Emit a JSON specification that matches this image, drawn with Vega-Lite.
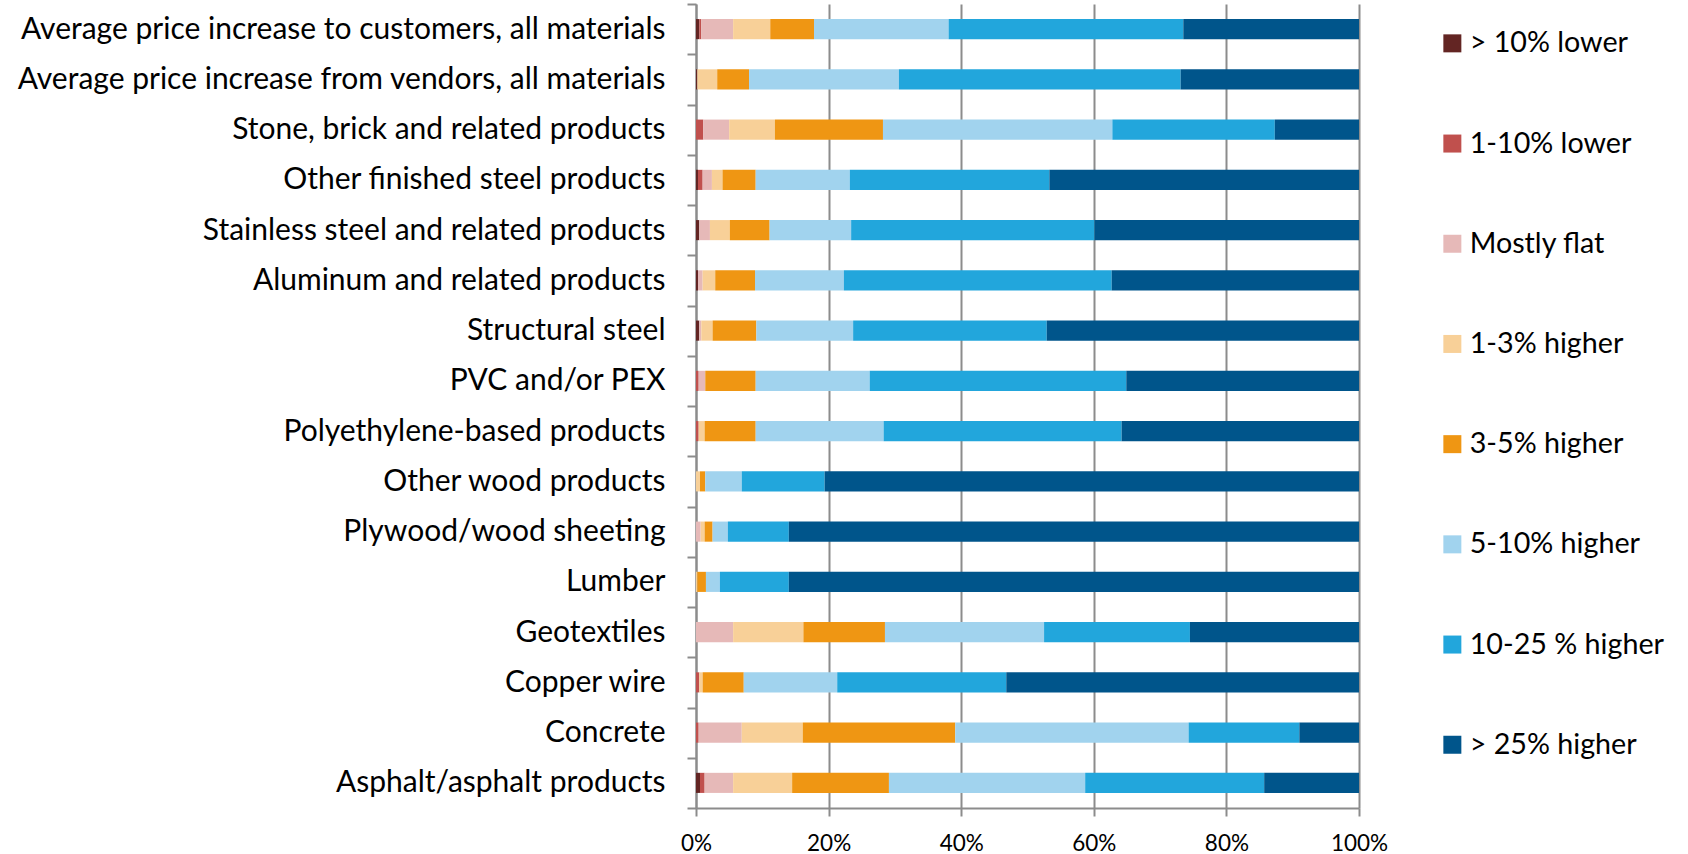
{
  "$schema": "https://vega.github.io/schema/vega-lite/v6.json",
  "autosize": {"type": "none"},
  "width": 663,
  "height": 804,
  "padding": {"left": 696, "top": 4, "right": 329, "bottom": 46},
  "background": "white",
  "config": {
    "view": {"stroke": null},
    "font": "Lato"
  },
  "datasets": {
    "cats": [
      {"c": "> 10% lower", "o": 1},
      {"c": "1-10% lower", "o": 2},
      {"c": "Mostly flat", "o": 3},
      {"c": "1-3% higher", "o": 4},
      {"c": "3-5% higher", "o": 5},
      {"c": "5-10% higher", "o": 6},
      {"c": "10-25 % higher", "o": 7},
      {"c": "> 25% higher", "o": 8}
    ]
  },
  "data": {"values": [
    {"m": "Average price increase to customers, all materials", "c": "> 10% lower", "v": 0.5},
    {"m": "Average price increase to customers, all materials", "c": "1-10% lower", "v": 0.3},
    {"m": "Average price increase to customers, all materials", "c": "Mostly flat", "v": 4.8},
    {"m": "Average price increase to customers, all materials", "c": "1-3% higher", "v": 5.6},
    {"m": "Average price increase to customers, all materials", "c": "3-5% higher", "v": 6.6},
    {"m": "Average price increase to customers, all materials", "c": "5-10% higher", "v": 20.3},
    {"m": "Average price increase to customers, all materials", "c": "10-25 % higher", "v": 35.4},
    {"m": "Average price increase to customers, all materials", "c": "> 25% higher", "v": 26.5},
    {"m": "Average price increase from vendors, all materials", "c": "> 10% lower", "v": 0.2},
    {"m": "Average price increase from vendors, all materials", "c": "1-3% higher", "v": 3.0},
    {"m": "Average price increase from vendors, all materials", "c": "3-5% higher", "v": 4.8},
    {"m": "Average price increase from vendors, all materials", "c": "5-10% higher", "v": 22.6},
    {"m": "Average price increase from vendors, all materials", "c": "10-25 % higher", "v": 42.5},
    {"m": "Average price increase from vendors, all materials", "c": "> 25% higher", "v": 26.9},
    {"m": "Stone, brick and related products", "c": "1-10% lower", "v": 1.1},
    {"m": "Stone, brick and related products", "c": "Mostly flat", "v": 3.9},
    {"m": "Stone, brick and related products", "c": "1-3% higher", "v": 6.9},
    {"m": "Stone, brick and related products", "c": "3-5% higher", "v": 16.3},
    {"m": "Stone, brick and related products", "c": "5-10% higher", "v": 34.6},
    {"m": "Stone, brick and related products", "c": "10-25 % higher", "v": 24.5},
    {"m": "Stone, brick and related products", "c": "> 25% higher", "v": 12.7},
    {"m": "Other finished steel products", "c": "> 10% lower", "v": 0.3},
    {"m": "Other finished steel products", "c": "1-10% lower", "v": 0.7},
    {"m": "Other finished steel products", "c": "Mostly flat", "v": 1.4},
    {"m": "Other finished steel products", "c": "1-3% higher", "v": 1.6},
    {"m": "Other finished steel products", "c": "3-5% higher", "v": 5.0},
    {"m": "Other finished steel products", "c": "5-10% higher", "v": 14.2},
    {"m": "Other finished steel products", "c": "10-25 % higher", "v": 30.1},
    {"m": "Other finished steel products", "c": "> 25% higher", "v": 46.7},
    {"m": "Stainless steel and related products", "c": "> 10% lower", "v": 0.5},
    {"m": "Stainless steel and related products", "c": "Mostly flat", "v": 1.6},
    {"m": "Stainless steel and related products", "c": "1-3% higher", "v": 3.0},
    {"m": "Stainless steel and related products", "c": "3-5% higher", "v": 6.0},
    {"m": "Stainless steel and related products", "c": "5-10% higher", "v": 12.3},
    {"m": "Stainless steel and related products", "c": "10-25 % higher", "v": 36.7},
    {"m": "Stainless steel and related products", "c": "> 25% higher", "v": 39.9},
    {"m": "Aluminum and related products", "c": "> 10% lower", "v": 0.3},
    {"m": "Aluminum and related products", "c": "Mostly flat", "v": 0.7},
    {"m": "Aluminum and related products", "c": "1-3% higher", "v": 1.9},
    {"m": "Aluminum and related products", "c": "3-5% higher", "v": 6.0},
    {"m": "Aluminum and related products", "c": "5-10% higher", "v": 13.4},
    {"m": "Aluminum and related products", "c": "10-25 % higher", "v": 40.4},
    {"m": "Aluminum and related products", "c": "> 25% higher", "v": 37.3},
    {"m": "Structural steel", "c": "> 10% lower", "v": 0.5},
    {"m": "Structural steel", "c": "Mostly flat", "v": 0.3},
    {"m": "Structural steel", "c": "1-3% higher", "v": 1.7},
    {"m": "Structural steel", "c": "3-5% higher", "v": 6.6},
    {"m": "Structural steel", "c": "5-10% higher", "v": 14.6},
    {"m": "Structural steel", "c": "10-25 % higher", "v": 29.2},
    {"m": "Structural steel", "c": "> 25% higher", "v": 47.1},
    {"m": "PVC and/or PEX", "c": "1-10% lower", "v": 0.4},
    {"m": "PVC and/or PEX", "c": "Mostly flat", "v": 1.0},
    {"m": "PVC and/or PEX", "c": "3-5% higher", "v": 7.6},
    {"m": "PVC and/or PEX", "c": "5-10% higher", "v": 17.2},
    {"m": "PVC and/or PEX", "c": "10-25 % higher", "v": 38.7},
    {"m": "PVC and/or PEX", "c": "> 25% higher", "v": 35.1},
    {"m": "Polyethylene-based products", "c": "1-10% lower", "v": 0.4},
    {"m": "Polyethylene-based products", "c": "1-3% higher", "v": 0.9},
    {"m": "Polyethylene-based products", "c": "3-5% higher", "v": 7.7},
    {"m": "Polyethylene-based products", "c": "5-10% higher", "v": 19.3},
    {"m": "Polyethylene-based products", "c": "10-25 % higher", "v": 35.9},
    {"m": "Polyethylene-based products", "c": "> 25% higher", "v": 35.8},
    {"m": "Other wood products", "c": "1-3% higher", "v": 0.6},
    {"m": "Other wood products", "c": "3-5% higher", "v": 0.8},
    {"m": "Other wood products", "c": "5-10% higher", "v": 5.5},
    {"m": "Other wood products", "c": "10-25 % higher", "v": 12.5},
    {"m": "Other wood products", "c": "> 25% higher", "v": 80.6},
    {"m": "Plywood/wood sheeting", "c": "Mostly flat", "v": 0.7},
    {"m": "Plywood/wood sheeting", "c": "1-3% higher", "v": 0.6},
    {"m": "Plywood/wood sheeting", "c": "3-5% higher", "v": 1.2},
    {"m": "Plywood/wood sheeting", "c": "5-10% higher", "v": 2.3},
    {"m": "Plywood/wood sheeting", "c": "10-25 % higher", "v": 9.2},
    {"m": "Plywood/wood sheeting", "c": "> 25% higher", "v": 86.0},
    {"m": "Lumber", "c": "1-3% higher", "v": 0.2},
    {"m": "Lumber", "c": "3-5% higher", "v": 1.3},
    {"m": "Lumber", "c": "5-10% higher", "v": 2.1},
    {"m": "Lumber", "c": "10-25 % higher", "v": 10.4},
    {"m": "Lumber", "c": "> 25% higher", "v": 86.0},
    {"m": "Geotextiles", "c": "Mostly flat", "v": 5.6},
    {"m": "Geotextiles", "c": "1-3% higher", "v": 10.6},
    {"m": "Geotextiles", "c": "3-5% higher", "v": 12.3},
    {"m": "Geotextiles", "c": "5-10% higher", "v": 24.0},
    {"m": "Geotextiles", "c": "10-25 % higher", "v": 22.0},
    {"m": "Geotextiles", "c": "> 25% higher", "v": 25.5},
    {"m": "Copper wire", "c": "1-10% lower", "v": 0.5},
    {"m": "Copper wire", "c": "1-3% higher", "v": 0.5},
    {"m": "Copper wire", "c": "3-5% higher", "v": 6.2},
    {"m": "Copper wire", "c": "5-10% higher", "v": 14.1},
    {"m": "Copper wire", "c": "10-25 % higher", "v": 25.5},
    {"m": "Copper wire", "c": "> 25% higher", "v": 53.2},
    {"m": "Concrete", "c": "1-10% lower", "v": 0.4},
    {"m": "Concrete", "c": "Mostly flat", "v": 6.5},
    {"m": "Concrete", "c": "1-3% higher", "v": 9.2},
    {"m": "Concrete", "c": "3-5% higher", "v": 23.0},
    {"m": "Concrete", "c": "5-10% higher", "v": 35.2},
    {"m": "Concrete", "c": "10-25 % higher", "v": 16.7},
    {"m": "Concrete", "c": "> 25% higher", "v": 9.0},
    {"m": "Asphalt/asphalt products", "c": "> 10% lower", "v": 0.6},
    {"m": "Asphalt/asphalt products", "c": "1-10% lower", "v": 0.7},
    {"m": "Asphalt/asphalt products", "c": "Mostly flat", "v": 4.3},
    {"m": "Asphalt/asphalt products", "c": "1-3% higher", "v": 8.9},
    {"m": "Asphalt/asphalt products", "c": "3-5% higher", "v": 14.6},
    {"m": "Asphalt/asphalt products", "c": "5-10% higher", "v": 29.6},
    {"m": "Asphalt/asphalt products", "c": "10-25 % higher", "v": 27.0},
    {"m": "Asphalt/asphalt products", "c": "> 25% higher", "v": 14.3}
  ]},
  "transform": [
    {"lookup": "c", "from": {"data": {"name": "cats"}, "key": "c", "fields": ["o"]}}
  ],
  "mark": {"type": "bar", "height": {"band": 0.4}},
  "encoding": {
    "y": {
      "field": "m", "type": "nominal", "sort": null,
      "scale": {"paddingInner": 0, "paddingOuter": 0},
      "axis": {
        "title": null,
        "domainColor": "#8c8c8c", "domainWidth": 2,
        "tickColor": "#8c8c8c", "tickWidth": 2, "tickSize": 9,
        "tickBand": "extent",
        "labelFont": "Lato", "labelFontSize": 30, "labelColor": "#000000",
        "labelPadding": 22, "labelLimit": 700
      }
    },
    "x": {
      "field": "v", "type": "quantitative", "stack": "normalize",
      "scale": {"domain": [0, 1]},
      "axis": {
        "title": null, "orient": "bottom",
        "values": [0, 0.2, 0.4, 0.6, 0.8, 1], "format": ".0%",
        "grid": true, "gridColor": "#8c8c8c", "gridWidth": 2,
        "domainColor": "#8c8c8c", "domainWidth": 2,
        "tickColor": "#8c8c8c", "tickWidth": 2, "tickSize": 8,
        "labelFont": "Lato", "labelFontSize": 22.5, "labelColor": "#000000",
        "labelPadding": 16, "labelFlush": false, "labelOverlap": false
      }
    },
    "order": {"field": "o", "type": "quantitative", "sort": "ascending"},
    "color": {
      "field": "c", "type": "nominal",
      "sort": ["> 10% lower", "1-10% lower", "Mostly flat", "1-3% higher", "3-5% higher", "5-10% higher", "10-25 % higher", "> 25% higher"],
      "scale": {
        "domain": ["> 10% lower", "1-10% lower", "Mostly flat", "1-3% higher", "3-5% higher", "5-10% higher", "10-25 % higher", "> 25% higher"],
        "range": ["#632523", "#C0504D", "#E6B9B8", "#F8D098", "#EF9613", "#A1D3EE", "#22A6DC", "#00558B"]
      },
      "legend": {
        "title": null, "orient": "none", "legendX": 742, "legendY": 25,
        "symbolType": "square", "symbolSize": 324, "symbolStrokeWidth": 0,
        "labelFont": "Lato", "labelFontSize": 28.7, "labelColor": "#000000",
        "labelOffset": 3, "rowPadding": 70.2, "padding": 0, "labelLimit": 300
      }
    }
  }
}
